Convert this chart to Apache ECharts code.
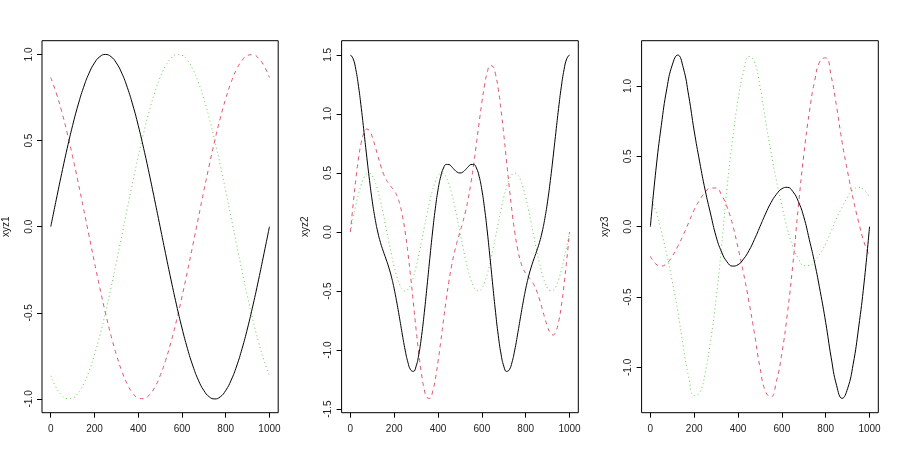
<!DOCTYPE html>
<html><head><meta charset="utf-8">
<script src="https://cdn.jsdelivr.net/npm/echarts@6/dist/echarts.min.js"></script>
<style>html,body{margin:0;padding:0;background:#fff}#c{width:900px;height:465px}</style>
</head><body><div id="c"></div>
<script>
// x positions of the sampled points (index 0..1000)
const xValues = [0,25,50,75,100,125,150,175,200,225,250,275,300,325,350,375,400,425,450,475,500,525,550,575,600,625,650,675,700,725,750,775,800,825,850,875,900,925,950,975,1000];
const xValues2 = [0,12.5,25,37.5,50,62.5,75,87.5,100,112.5,125,137.5,150,162.5,175,187.5,200,212.5,225,237.5,250,262.5,275,287.5,300,312.5,325,337.5,350,362.5,375,387.5,400,412.5,425,437.5,450,462.5,475,487.5,500,512.5,525,537.5,550,562.5,575,587.5,600,612.5,625,637.5,650,662.5,675,687.5,700,712.5,725,737.5,750,762.5,775,787.5,800,812.5,825,837.5,850,862.5,875,887.5,900,912.5,925,937.5,950,962.5,975,987.5,1000];

// panel 1 (xyz1)
const xyz1Black = [0,0.156,0.309,0.454,0.588,0.707,0.809,0.891,0.951,0.988,1,0.988,0.951,0.891,0.809,0.707,0.588,0.454,0.309,0.156,0,-0.156,-0.309,-0.454,-0.588,-0.707,-0.809,-0.891,-0.951,-0.988,-1,-0.988,-0.951,-0.891,-0.809,-0.707,-0.588,-0.454,-0.309,-0.156,0];
const xyz1Red = [0.866,0.777,0.669,0.545,0.407,0.259,0.105,-0.052,-0.208,-0.358,-0.5,-0.629,-0.743,-0.839,-0.914,-0.966,-0.995,-0.999,-0.978,-0.934,-0.866,-0.777,-0.669,-0.545,-0.407,-0.259,-0.105,0.052,0.208,0.358,0.5,0.629,0.743,0.839,0.914,0.966,0.995,0.999,0.978,0.934,0.866];
const xyz1Green = [-0.866,-0.934,-0.978,-0.999,-0.995,-0.966,-0.914,-0.839,-0.743,-0.629,-0.5,-0.358,-0.208,-0.052,0.105,0.259,0.407,0.545,0.669,0.777,0.866,0.934,0.978,0.999,0.995,0.966,0.914,0.839,0.743,0.629,0.5,0.358,0.208,0.052,-0.105,-0.259,-0.407,-0.545,-0.669,-0.777,-0.866];

// panel 2 (xyz2), sampled every 12.5
const xyz2Black = [1.5,1.468,1.375,1.23,1.047,0.842,0.634,0.436,0.261,0.116,0,-0.09,-0.162,-0.228,-0.298,-0.38,-0.482,-0.602,-0.735,-0.872,-1,-1.103,-1.167,-1.18,-1.136,-1.034,-0.878,-0.68,-0.456,-0.223,0,0.197,0.357,0.472,0.542,0.572,0.571,0.552,0.527,0.507,0.5,0.507,0.527,0.552,0.571,0.572,0.542,0.472,0.357,0.197,0,-0.223,-0.456,-0.68,-0.878,-1.034,-1.136,-1.18,-1.167,-1.103,-1,-0.872,-0.735,-0.602,-0.482,-0.38,-0.298,-0.228,-0.162,-0.09,0,0.116,0.261,0.436,0.634,0.842,1.047,1.23,1.375,1.468,1.5];
const xyz2Red = [0,0.232,0.447,0.627,0.761,0.842,0.872,0.856,0.804,0.73,0.647,0.567,0.499,0.447,0.409,0.38,0.35,0.307,0.239,0.138,0,-0.175,-0.379,-0.601,-0.826,-1.034,-1.209,-1.335,-1.403,-1.409,-1.354,-1.246,-1.098,-0.926,-0.746,-0.572,-0.415,-0.281,-0.171,-0.08,0,0.08,0.171,0.281,0.415,0.572,0.746,0.926,1.098,1.246,1.354,1.409,1.403,1.335,1.209,1.034,0.826,0.601,0.379,0.175,0,-0.138,-0.239,-0.307,-0.35,-0.38,-0.409,-0.447,-0.499,-0.567,-0.647,-0.73,-0.804,-0.856,-0.872,-0.842,-0.761,-0.627,-0.447,-0.232,0];
const xyz2Green = [0,0.117,0.227,0.325,0.405,0.462,0.494,0.498,0.476,0.426,0.354,0.261,0.155,0.039,-0.078,-0.191,-0.294,-0.38,-0.446,-0.486,-0.5,-0.486,-0.446,-0.38,-0.294,-0.191,-0.078,0.039,0.155,0.261,0.354,0.426,0.476,0.498,0.494,0.462,0.405,0.325,0.227,0.117,0,-0.117,-0.227,-0.325,-0.405,-0.462,-0.494,-0.498,-0.476,-0.426,-0.354,-0.261,-0.155,-0.039,0.078,0.191,0.294,0.38,0.446,0.486,0.5,0.486,0.446,0.38,0.294,0.191,0.078,-0.039,-0.155,-0.261,-0.354,-0.426,-0.476,-0.498,-0.494,-0.462,-0.405,-0.325,-0.227,-0.117,0];

// panel 3 (xyz3)
const xyz3Black = [0,0.40,0.72,0.98,1.15,1.22,1.13,0.93,0.68,0.46,0.26,0.09,-0.07,-0.18,-0.25,-0.28,-0.27,-0.23,-0.17,-0.09,0,0.09,0.17,0.23,0.27,0.28,0.25,0.18,0.07,-0.09,-0.26,-0.46,-0.68,-0.93,-1.13,-1.22,-1.15,-0.98,-0.72,-0.40,0];
const xyz3Red = [-0.21,-0.265,-0.28,-0.26,-0.21,-0.14,-0.06,0.03,0.12,0.19,0.245,0.275,0.275,0.225,0.14,0.015,-0.15,-0.33,-0.535,-0.76,-1.0,-1.17,-1.21,-1.10,-0.90,-0.62,-0.27,0.14,0.51,0.81,1.04,1.18,1.20,1.07,0.85,0.60,0.39,0.20,0.035,-0.11,-0.21];
const xyz3Green = [0.21,0.11,-0.035,-0.20,-0.39,-0.60,-0.85,-1.07,-1.20,-1.18,-1.04,-0.81,-0.51,-0.14,0.28,0.62,0.90,1.10,1.21,1.17,1.0,0.76,0.535,0.33,0.15,-0.015,-0.14,-0.225,-0.275,-0.275,-0.245,-0.19,-0.12,-0.03,0.06,0.14,0.21,0.26,0.28,0.26,0.21];

// tick labels
const xTicks = [0,200,400,600,800,1000];
const yTicks1 = [-1,-0.5,0,0.5,1];
const yTicks2 = [-1.5,-1,-0.5,0,0.5,1,1.5];
const yTicks3 = [-1,-0.5,0,0.5,1];
const yNames = ['xyz1','xyz2','xyz3'];

const panels = [
  {xs:xValues, series:[xyz1Black,xyz1Red,xyz1Green], ticks:yTicks1, min:-1.08, max:1.08},
  {xs:xValues2, series:[xyz2Black,xyz2Red,xyz2Green], ticks:yTicks2, min:-1.53, max:1.62},
  {xs:xValues, series:[xyz3Black,xyz3Red,xyz3Green], ticks:yTicks3, min:-1.322, max:1.322}
];
const lefts = [41.5, 341.6, 641.6];
const colors = ['#000000','#DF536B','#61D04F'];
const dashes = ['solid',[4,4],[1,3]];
const font = 'Liberation Sans, Arial, Helvetica, sans-serif';

const grid=[], xAxis=[], yAxis=[], series=[];
panels.forEach((p,i)=>{
  grid.push({left:lefts[i], top:40.7, width:236.7, height:372, show:true, borderColor:'#000', borderWidth:1, backgroundColor:'transparent', containLabel:false});
  xAxis.push({gridIndex:i, type:'value', min:-40, max:1040, position:'bottom',
    axisLine:{show:false, onZero:false}, splitLine:{show:false},
    axisTick:{show:true, length:5, customValues:xTicks, lineStyle:{color:'#000',width:1}},
    axisLabel:{show:true, customValues:xTicks, fontSize:10, color:'#222', margin:12, fontFamily:font,
      formatter:v=>String(v)}
  });
  yAxis.push({gridIndex:i, type:'value', min:p.min, max:p.max, position:'left',
    name:yNames[i], nameLocation:'middle', nameGap:31, nameTextStyle:{fontSize:10, color:'#222', fontFamily:font},
    axisLine:{show:false, onZero:false}, splitLine:{show:false},
    axisTick:{show:true, length:5, customValues:p.ticks, lineStyle:{color:'#000',width:1}},
    axisLabel:{show:true, customValues:p.ticks, rotate:90, fontSize:10, color:'#222', margin:8, fontFamily:font,
      formatter:v=>v.toFixed(1)}
  });
  p.series.forEach((arr,k)=>{
    series.push({type:'line', xAxisIndex:i, yAxisIndex:i, showSymbol:false, smooth:true, animation:false,
      data: p.xs.map((x,j)=>[x,arr[j]]),
      lineStyle:{color:colors[k], width:1, type:dashes[k]}, z:3-k});
  });
});

const chart = echarts.init(document.getElementById('c'), null, {renderer:'canvas'});
chart.setOption({animation:false, backgroundColor:'#fff', grid, xAxis, yAxis, series});
</script>
</body></html>
